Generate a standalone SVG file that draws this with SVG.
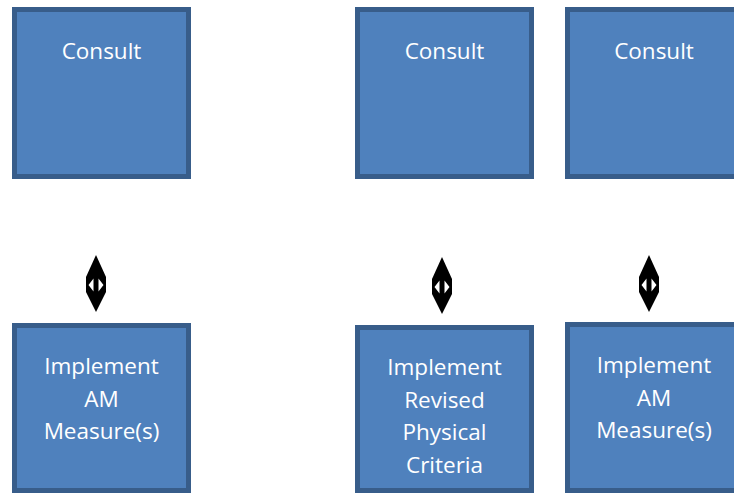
<svg xmlns="http://www.w3.org/2000/svg" width="734" height="493" viewBox="0 0 734 493">
<defs>
<style>
.box{fill:#4f81bd;stroke:#385d8a;stroke-width:5}
.t{font-family:"Open Sans","Liberation Sans",sans-serif;font-size:22.5px;fill:#ffffff;text-anchor:middle}
.arr{fill:#000000}
.hole{fill:#ffffff}
</style>
</defs>
<rect width="734" height="493" fill="#ffffff"/>
<g id="consult1"><rect class="box" x="14.5" y="9.5" width="174" height="167"/><text class="t" x="101.5" y="59">Consult</text></g>
<g id="consult2"><rect class="box" x="357.5" y="9.5" width="174" height="167"/><text class="t" x="444.5" y="59">Consult</text></g>
<g id="consult3"><rect class="box" x="567.5" y="9.5" width="174" height="167"/><text class="t" x="654" y="59">Consult</text></g>
<g id="implement1"><rect class="box" x="14.5" y="325.5" width="174" height="165"/><text class="t" x="101.5" y="374">Implement</text><text class="t" x="101.5" y="406.5">AM</text><text class="t" x="101.5" y="439">Measure(s)</text></g>
<g id="implement2"><rect class="box" x="357.5" y="327.5" width="174" height="163"/><text class="t" x="444.5" y="375">Implement</text><text class="t" x="444.5" y="407.5">Revised</text><text class="t" x="444.5" y="440">Physical</text><text class="t" x="444.5" y="472.5">Criteria</text></g>
<g id="implement3"><rect class="box" x="567.5" y="324.5" width="174" height="166"/><text class="t" x="654" y="373">Implement</text><text class="t" x="654" y="405.5">AM</text><text class="t" x="654" y="438">Measure(s)</text></g>
<g id="connectors">
<g transform="translate(96,0)">
<path class="arr" d="M0,255 L10,277 L10,292 L0,312 L-10,292 L-10,277 Z"/>
<path class="hole" d="M-7.5,285 L-2.5,278.5 L-2.5,291.5 Z M7.5,285 L2.5,278.5 L2.5,291.5 Z"/>
</g>
<g transform="translate(442,2)">
<path class="arr" d="M0,255 L10,277 L10,292 L0,312 L-10,292 L-10,277 Z"/>
<path class="hole" d="M-7.5,285 L-2.5,278.5 L-2.5,291.5 Z M7.5,285 L2.5,278.5 L2.5,291.5 Z"/>
</g>
<g transform="translate(649,0)">
<path class="arr" d="M0,255 L10,277 L10,292 L0,312 L-10,292 L-10,277 Z"/>
<path class="hole" d="M-7.5,285 L-2.5,278.5 L-2.5,291.5 Z M7.5,285 L2.5,278.5 L2.5,291.5 Z"/>
</g>
</g>
</svg>
